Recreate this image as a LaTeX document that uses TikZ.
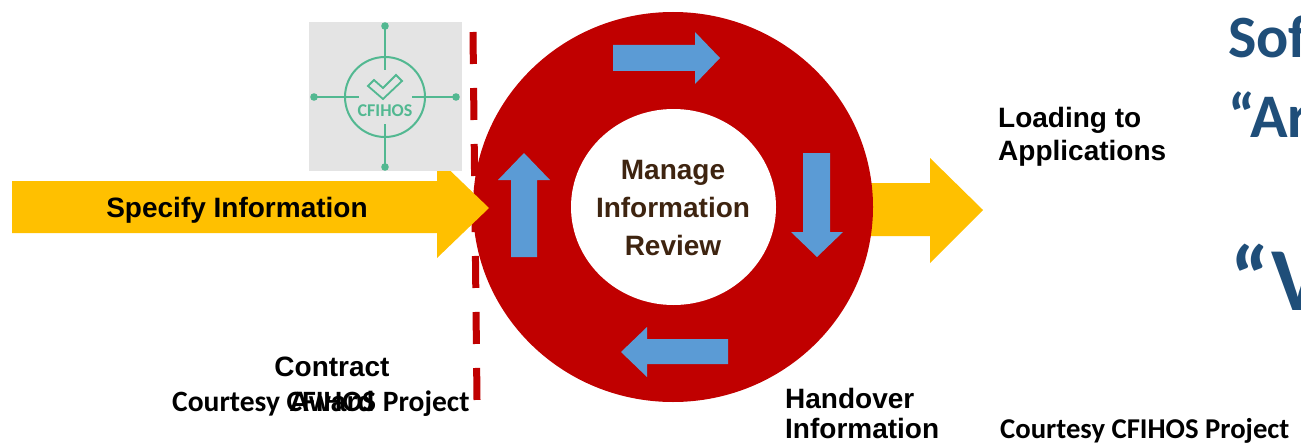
\documentclass[tikz,border=0pt]{standalone}
\usepackage{fontspec}
\usetikzlibrary{shapes.geometric}
\setmainfont{Liberation Sans}
\newfontfamily\calfont{Carlito}
\definecolor{ringred}{HTML}{C00000}
\definecolor{flowyellow}{HTML}{FFC000}
\definecolor{cycleblue}{HTML}{5B9BD5}
\definecolor{logogray}{HTML}{E4E4E4}
\definecolor{logogreen}{RGB}{82,184,145}
\definecolor{textbrown}{RGB}{62,36,16}
\definecolor{titleblue}{HTML}{1F4E79}
\begin{document}
\begin{tikzpicture}[x=1pt,y=-1pt,
  lbl/.style={inner sep=0pt, font=\bfseries\fontsize{28}{33}\selectfont},
  courtesy/.style={inner sep=0pt, anchor=base west, font=\calfont\bfseries\fontsize{29.5}{34}\selectfont},
  bigtitle/.style={inner sep=0pt, anchor=base west, text=titleblue, font=\calfont\bfseries},
  logoline/.style={draw=logogreen, line width=2pt},
  logodot/.style={fill=logogreen}]
\useasboundingbox (0,0) rectangle (1301,444);
\clip (0,0) rectangle (1301,444);
\fill[white] (0,0) rectangle (1301,444);

% right yellow arrow (behind ring)
\fill[flowyellow] (860,183) -- (930,183) -- (930,158) -- (983,210) -- (930,263) -- (930,236) -- (860,236) -- cycle;

% ring
\node[ellipse, fill=ringred, minimum width=400pt, minimum height=390pt, inner sep=0pt] (ring) at (673,207) {};
\node[ellipse, fill=white, minimum width=205pt, minimum height=196pt, inner sep=0pt] (hub) at (673.5,207) {};
\node[inner sep=0pt, anchor=base, align=center, text=textbrown, font=\bfseries\fontsize{28}{38}\selectfont]
  (hubtext) at (673,255) {Manage\\Information\\Review};

% blue cycle arrows
\fill[cycleblue] (613,45) -- (695,45) -- (695,32) -- (720,58) -- (695,84) -- (695,71) -- (613,71) -- cycle;
\fill[cycleblue] (803,153) -- (830,153) -- (830,232) -- (843,232) -- (817,257) -- (791,232) -- (803,232) -- cycle;
\fill[cycleblue] (728,339) -- (728,364) -- (647,364) -- (647,377) -- (621,352) -- (647,327) -- (647,339) -- cycle;
\fill[cycleblue] (511,257) -- (511,180) -- (498,180) -- (524,153) -- (550,180) -- (537,180) -- (537,257) -- cycle;

% dashed contract line
\draw[ringred, line width=7pt, dash pattern=on 32pt off 24pt] (473,32) coordinate (dashtop) -- (477,400) coordinate (dashbot);

% left yellow arrow
\fill[flowyellow] (12,181) -- (437,181) -- (437,158) -- (489,208) -- (437,258) -- (437,233) -- (12,233) -- cycle;
\node[lbl, anchor=base] (specify) at (237,217) {Specify Information};

% CFIHOS logo
\node[fill=logogray, minimum width=153pt, minimum height=149pt, inner sep=0pt, anchor=north west] (logo) at (309,22) {};
\node[draw=logogreen, line width=2pt, circle, minimum size=80pt, inner sep=0pt] (logoring) at (385,97) {};
\coordinate (dotn) at (385,26);
\coordinate (dots) at (385,167);
\coordinate (dotw) at (314,97);
\coordinate (dote) at (456,97);
\draw[logoline] (dotn) -- (385,70);
\draw[logoline] (385,124) -- (dots);
\draw[logoline] (dotw) -- (359,97);
\draw[logoline] (412,97) -- (dote);
\foreach \p in {dotn,dots,dotw,dote} \fill[logodot] (\p) circle (3.8pt);
\draw[logogreen, line width=1.8pt, line join=miter]
  (368,86) -- (374,80) -- (383,88) -- (396,75) -- (402,81) -- (383,99) -- cycle;
\node[inner sep=0pt, anchor=base, text=logogreen, font=\calfont\bfseries\fontsize{18}{20}\selectfont] (logotext) at (385,116) {CFIHOS};

% labels
\node[lbl, anchor=base west, align=left] (loading) at (998,160) {Loading to\\Applications};
\node[lbl, anchor=base west, align=left, font=\bfseries\fontsize{28}{30}\selectfont] (handover) at (785,438) {Handover\\Information};
\node[courtesy] (courtesyleft) at (172,411) {Courtesy CFIHOS Project};
\node[lbl, anchor=base, align=center, font=\bfseries\fontsize{28}{35}\selectfont] (contract) at (332,411) {Contract\\Award};
\node[courtesy, font=\calfont\bfseries\fontsize{28.7}{34}\selectfont] (courtesyright) at (1000,438) {Courtesy CFIHOS Project};

% cut-off title text at right edge
\node[bigtitle, font=\calfont\bfseries\fontsize{60}{66}\selectfont] (title1) at (1228,58) {Sof};
\node[bigtitle, font=\calfont\bfseries\fontsize{62}{68}\selectfont] (title2) at (1228,137) {“Ar};
\node[bigtitle, font=\calfont\bfseries\fontsize{90}{96}\selectfont] (title3) at (1230,310) {“V};
\end{tikzpicture}
\end{document}
